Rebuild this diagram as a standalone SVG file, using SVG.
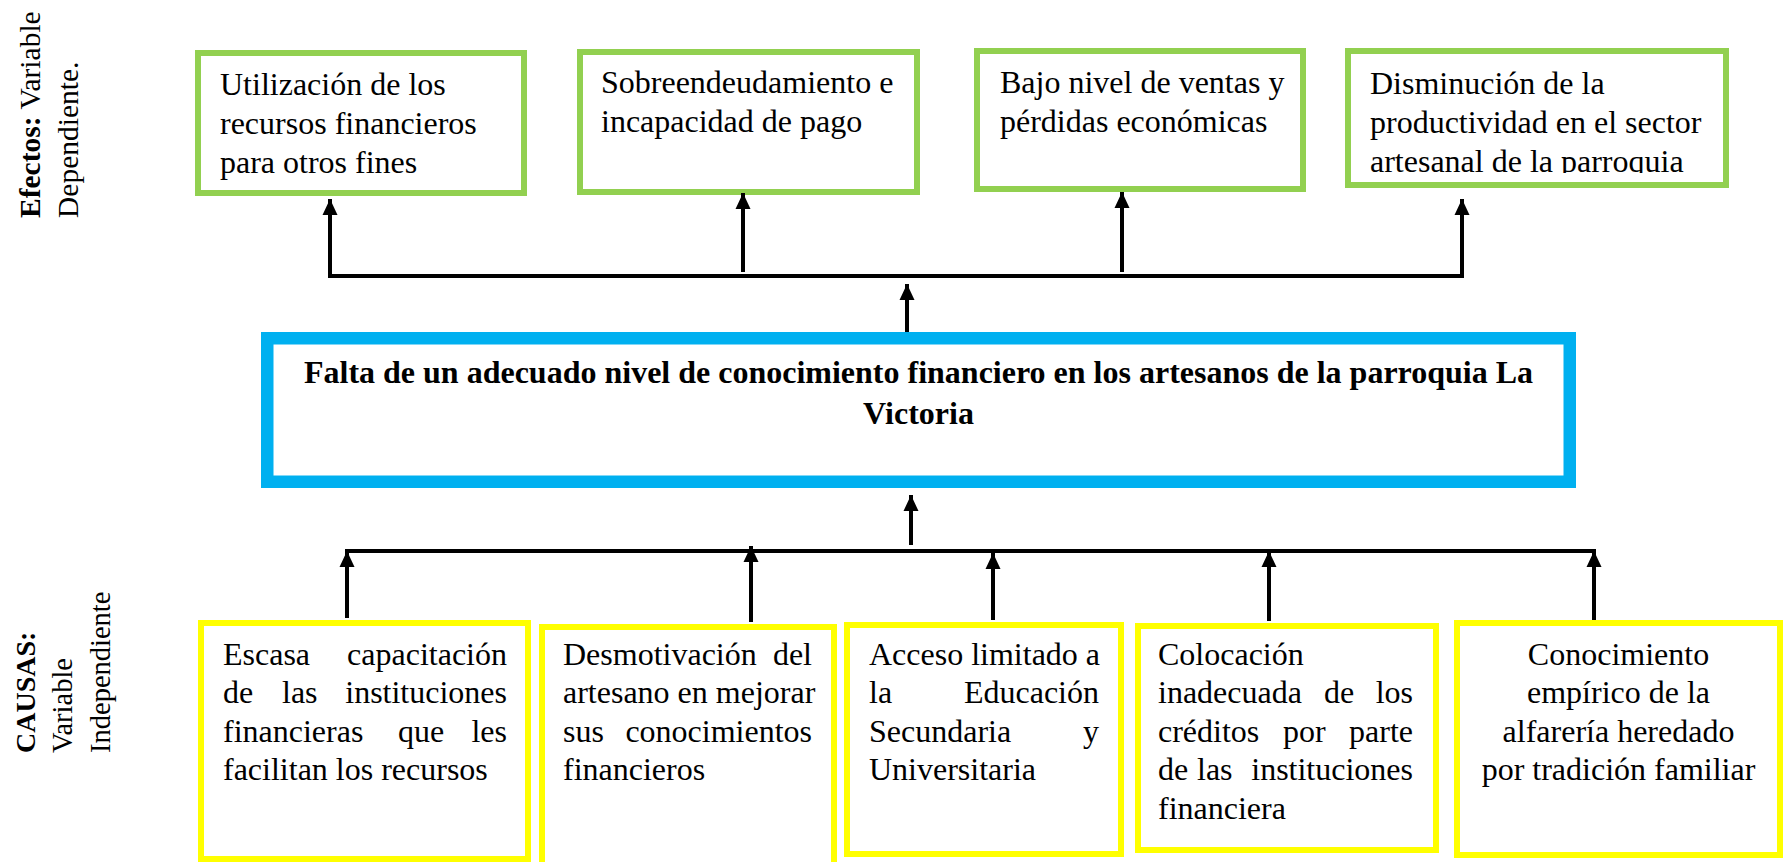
<svg xmlns="http://www.w3.org/2000/svg" width="1786" height="862" viewBox="0 0 1786 862">
<style>
.t{font-family:"Liberation Serif","Times New Roman",serif;font-size:32px;fill:#000}
.b{font-weight:bold}
.lab{font-size:29.5px}
.e{text-anchor:end}
.m{text-anchor:middle}
.g{fill:none;stroke:#92D050;stroke-width:6}
.y{fill:none;stroke:#FFFF00;stroke-width:6}
.bl{fill:none;stroke:#00B0F0;stroke-width:12.5}
.c{fill:none;stroke:#000;stroke-width:4}
.a{fill:none;stroke:#000;stroke-width:4;marker-end:url(#ah)}
</style>
<defs>
<marker id="ah" markerUnits="userSpaceOnUse" markerWidth="16" markerHeight="16" refX="16" refY="7.5" orient="auto" viewBox="0 0 16 15">
<path d="M0,0 L16,7.5 L0,15 z" fill="#000"/>
</marker>
<clipPath id="clip4"><rect x="1350" y="54" width="374" height="119"/></clipPath>
</defs>
<rect width="1786" height="862" fill="#fff"/>

<g id="label-efectos">
<text class="t lab" transform="translate(40,218) rotate(-90)"><tspan class="b">Efectos:</tspan> Variable</text>
<text class="t lab" transform="translate(78,218) rotate(-90)">Dependiente.</text>
</g>
<g id="label-causas">
<text class="t lab b" style="font-size:28px" transform="translate(35,753) rotate(-90)">CAUSAS:</text>
<text class="t lab" style="font-size:28.5px" transform="translate(72,753) rotate(-90)">Variable</text>
<text class="t lab" style="font-size:28.5px" transform="translate(110,753) rotate(-90)">Independiente</text>
</g>

<g id="efecto1">
<rect class="g" x="198" y="53" width="326" height="140"/>
<text class="t" x="220" y="95">Utilización de los</text>
<text class="t" x="220" y="134">recursos financieros</text>
<text class="t" x="220" y="173">para otros fines</text>
</g>
<g id="efecto2">
<rect class="g" x="580" y="52" width="337" height="140"/>
<text class="t" x="601" y="93">Sobreendeudamiento e</text>
<text class="t" x="601" y="132">incapacidad de pago</text>
</g>
<g id="efecto3">
<rect class="g" x="977" y="51" width="326" height="138"/>
<text class="t" x="1000" y="93">Bajo nivel de ventas y</text>
<text class="t" x="1000" y="132">pérdidas económicas</text>
</g>
<g id="efecto4">
<rect class="g" x="1348" y="51" width="378" height="134"/>
<g clip-path="url(#clip4)">
<text class="t" x="1370" y="94">Disminución de la</text>
<text class="t" x="1370" y="133">productividad en el sector</text>
<text class="t" x="1370" y="172">artesanal de la parroquia</text>
</g>
</g>

<g id="problema">
<rect class="bl" x="267.25" y="338.25" width="1302.5" height="143.5"/>
<text class="t b m" x="918.5" y="383">Falta de un adecuado nivel de conocimiento financiero en los artesanos de la parroquia La</text>
<text class="t b m" x="918.5" y="424">Victoria</text>
</g>

<g id="causa1">
<rect class="y" x="201" y="623" width="327" height="236"/>
<text class="t" x="223" y="665">Escasa</text>
<text class="t e" x="507" y="665">capacitación</text>
<text class="t" x="223" y="703">de</text>
<text class="t" x="282" y="703">las</text>
<text class="t e" x="507" y="703">instituciones</text>
<text class="t" x="223" y="742">financieras</text>
<text class="t" x="398" y="742">que</text>
<text class="t e" x="507" y="742">les</text>
<text class="t" x="223" y="780">facilitan los recursos</text>
</g>
<g id="causa2">
<rect class="y" x="542" y="627" width="292" height="245"/>
<text class="t" x="563" y="665">Desmotivación</text>
<text class="t e" x="812" y="665">del</text>
<text class="t" x="563" y="703">artesano en mejorar</text>
<text class="t" x="563" y="742">sus</text>
<text class="t e" x="812" y="742">conocimientos</text>
<text class="t" x="563" y="780">financieros</text>
</g>
<g id="causa3">
<rect class="y" x="847" y="625" width="274" height="229"/>
<text class="t" x="869" y="665">Acceso limitado a</text>
<text class="t" x="869" y="703">la</text>
<text class="t e" x="1099" y="703">Educación</text>
<text class="t" x="869" y="742">Secundaria</text>
<text class="t e" x="1099" y="742">y</text>
<text class="t" x="869" y="780">Universitaria</text>
</g>
<g id="causa4">
<rect class="y" x="1138" y="626" width="298" height="224"/>
<text class="t" x="1158" y="665">Colocación</text>
<text class="t" x="1158" y="703">inadecuada</text>
<text class="t" x="1324" y="703">de</text>
<text class="t e" x="1413" y="703">los</text>
<text class="t" x="1158" y="742">créditos</text>
<text class="t" x="1283" y="742">por</text>
<text class="t e" x="1413" y="742">parte</text>
<text class="t" x="1158" y="780">de</text>
<text class="t" x="1197" y="780">las</text>
<text class="t e" x="1413" y="780">instituciones</text>
<text class="t" x="1158" y="819">financiera</text>
</g>
<g id="causa5">
<rect class="y" x="1457" y="623" width="323" height="232"/>
<text class="t m" x="1618.5" y="665">Conocimiento</text>
<text class="t m" x="1618.5" y="703">empírico de la</text>
<text class="t m" x="1618.5" y="742">alfarería heredado</text>
<text class="t m" x="1618.5" y="780">por tradición familiar</text>
</g>

<g id="conectores">
<path class="c" d="M328,276 H1464"/>
<line class="a" x1="330" y1="278" x2="330" y2="199"/>
<line class="a" x1="743" y1="272" x2="743" y2="193"/>
<line class="a" x1="1122" y1="272" x2="1122" y2="192"/>
<line class="a" x1="1462" y1="278" x2="1462" y2="199"/>
<line class="a" x1="907" y1="332" x2="907" y2="284"/>
<line class="a" x1="911" y1="545" x2="911" y2="495"/>
<path class="c" d="M345,551 H1596"/>
<line class="a" x1="347" y1="618" x2="347" y2="551"/>
<line class="a" x1="751" y1="622" x2="751" y2="546"/>
<line class="a" x1="993" y1="620" x2="993" y2="553"/>
<line class="a" x1="1269" y1="621" x2="1269" y2="551"/>
<line class="a" x1="1594" y1="620" x2="1594" y2="551"/>
</g>
</svg>
